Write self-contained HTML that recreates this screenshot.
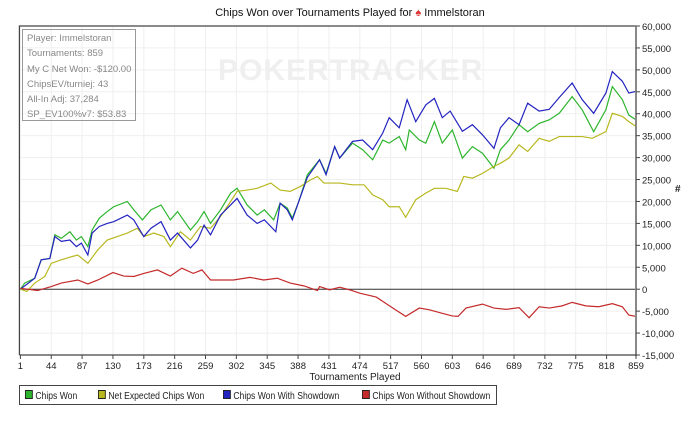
<!DOCTYPE html>
<html><head><meta charset="utf-8"><style>
body{margin:0;background:#fff;width:700px;height:416px;overflow:hidden;font-family:"Liberation Sans",sans-serif}
svg text{font-family:"Liberation Sans",sans-serif}
.lg{position:absolute;top:4px;transform:scaleX(0.86);transform-origin:left center}
</style></head><body>
<svg id="c" width="700" height="416"></svg>
<script>
const xTicks=[1,44,87,130,173,216,259,302,345,388,431,474,517,560,603,646,689,732,775,818,859];
const yTicks=[60000,55000,50000,45000,40000,35000,30000,25000,20000,15000,10000,5000,0,-5000,-10000,-15000];
const greenT=[1,7,21,30,42,49,58,70,79,86,95,101,111,122,131,150,159,171,183,197,210,220,238,248,257,266,280,294,303,317,331,341,354,363,373,380,389,401,418,427,439,446,464,478,492,506,515,529,538,543,557,566,578,589,603,617,631,645,661,670,682,696,708,724,738,752,770,784,800,817,826,840,849,859];
const greenV=[0,1400,2500,6700,7000,12400,11600,13100,11200,12000,9700,13500,16200,17700,18800,20000,18100,15800,18100,19200,15800,17700,13500,15400,17700,15000,18100,21900,23000,19200,16900,18100,15800,19600,18500,16200,20000,26100,29500,26400,32500,29900,33300,31800,29500,34000,33300,34800,31800,36300,34000,33300,38200,33300,36300,29900,32500,31000,27600,31800,34000,37500,35900,37800,38600,40100,43900,40900,35900,40900,46200,43200,39700,38600];
const blueT=[1,21,30,42,49,58,70,79,86,95,101,111,122,131,150,159,173,183,197,210,220,238,248,257,266,280,294,303,317,331,341,357,363,373,380,389,401,418,427,439,446,464,478,492,506,515,529,540,552,566,578,589,600,617,631,645,661,670,682,696,708,724,738,752,770,784,800,817,826,840,849,859];
const blueV=[0,2500,6700,7000,12000,10900,11200,9700,10500,7800,12800,14300,15000,15400,16900,15800,12000,13900,15400,11200,12800,9400,11200,14600,12400,16900,19200,20700,16900,15000,15800,13100,19600,18100,15800,20000,25500,29500,26100,32500,29900,33700,34000,31800,35600,39100,36800,43200,38200,42000,43500,39100,40600,36000,37500,35200,32100,36800,39100,37500,42400,40600,41000,43700,47000,43200,40100,44700,49600,47400,44700,45100];
const yellowT=[1,10,21,35,44,58,72,81,95,109,122,136,150,164,173,187,201,210,224,238,252,266,280,294,303,317,331,350,363,377,391,405,415,424,432,446,464,480,492,506,515,529,538,552,566,578,594,603,610,619,631,645,661,670,682,696,708,724,738,752,770,784,798,817,826,840,849,859];
const yellowV=[0,-500,1400,2900,5900,6700,7400,7800,5900,9000,11200,12000,12800,13900,12000,12800,12000,9700,13100,11200,14300,13900,16600,20000,22300,22600,23000,24200,22600,22300,23400,24900,25700,24200,24200,24200,23800,23800,21500,20400,18800,18800,16400,20400,21900,23000,23000,22600,22300,25700,25300,26400,28000,28700,29900,32900,31400,34400,33700,34800,34800,34800,34400,35900,40100,39400,38200,37100];
const redT=[1,25,44,58,81,95,109,130,145,159,173,192,210,226,242,254,266,298,321,340,359,377,396,415,418,432,446,460,474,497,510,524,538,557,571,589,603,611,622,645,661,678,696,710,724,738,756,770,789,807,826,840,849,859];
const redV=[200,-300,600,1400,2100,1200,2100,3800,3000,2900,3600,4400,3000,4800,3600,4400,2100,2100,2700,2100,2500,1400,760,-300,600,-150,450,-150,-900,-1800,-3200,-4700,-6200,-4300,-4700,-5500,-6100,-6200,-4300,-3400,-4300,-4600,-4200,-6500,-4000,-4300,-3800,-3000,-3800,-4000,-3300,-4000,-5900,-6200];
const series=[["series-chips-won",greenT,greenV,"#2db52d"],["series-net-expected",yellowT,yellowV,"#b8b820"],["series-with-showdown",blueT,blueV,"#2323c0"],["series-without-showdown",redT,redV,"#c42a2a"]];
const L=20.4,R=636,T=26,B=355;
const X=t=>L+(t-1)/858*(R-L);
const Y=v=>T+(60000-v)/75000*(B-T);
const NS="http://www.w3.org/2000/svg",svg=document.getElementById('c');
function mk(tag,a,p){const e=document.createElementNS(NS,tag);for(const k in a)e.setAttribute(k,a[k]);(p||svg).appendChild(e);return e;}
let wm=mk('text',{x:218,y:80,'font-size':30,'font-weight':'bold',fill:'#efefef','letter-spacing':'1'});wm.textContent='POKERTRACKER';


xTicks.forEach(t=>{let g=mk('line',{x1:X(t),x2:X(t),y1:T,y2:B,stroke:'#efefef'});

});
yTicks.forEach(v=>{let g=mk('line',{x1:L,x2:R,y1:Y(v),y2:Y(v),stroke:'#efefef'});

});
let fr=mk('path',{d:`M${L-1} ${B}V${T}H${R}`,stroke:'#444',fill:'none','stroke-width':1.2});


let zl=mk('line',{x1:L,x2:R,y1:Y(0),y2:Y(0),stroke:'#333'});


series.forEach(s=>{let p=mk('polyline',{points:s[1].map((t,i)=>X(t)+','+Y(s[2][i])).join(' '),fill:'none',stroke:s[3],'stroke-width':1.2});

});
let ra=mk('line',{x1:R,x2:R,y1:T,y2:B+1,stroke:'#888','stroke-width':2});


let ba=mk('line',{x1:L-1,x2:R,y1:B,y2:B,stroke:'#444','stroke-width':1.2});


yTicks.forEach(v=>{mk('line',{x1:R,x2:R+4,y1:Y(v),y2:Y(v),stroke:'#444'});
let t=mk('text',{x:R+6,y:Y(v)+4,'font-size':9.5,fill:'#222'});t.textContent=(v<0?'-':'')+Math.abs(v).toLocaleString('en-US');

});
xTicks.forEach(v=>{mk('line',{x1:X(v),x2:X(v),y1:B,y2:B+4,stroke:'#444'});
let t=mk('text',{x:X(v),y:B+14,'font-size':9.5,fill:'#222','text-anchor':'middle'});t.textContent=v;

});
</script>
<div style="position:absolute;left:0;top:7px;width:700px;text-align:center;font-size:11px;color:#111">Chips Won over Tournaments Played for <span style="color:#d33">♠</span> Immelstoran</div>
<div style="position:absolute;left:280px;top:372px;width:150px;text-align:center;font-size:10px;color:#222">Tournaments Played</div>
<div style="position:absolute;left:675px;top:184px;font-size:10px;font-weight:bold;color:#222">#</div>
<div style="position:absolute;left:22px;top:29px;width:114px;height:92px;border:1px solid #999;font-size:9.5px;color:#888;line-height:15.3px;padding:1px 0 0 4px;box-sizing:border-box">Player: Immelstoran<br>Tournaments: 859<br>My C Net Won: -$120.00<br>ChipsEV/turniej: 43<br>All-In Adj: 37,284<br>SP_EV100%v7: $53.83</div>
<div style="position:absolute;left:19px;top:385px;width:478px;height:20px;border:1px solid #444;box-sizing:border-box;font-size:10px;color:#222;white-space:nowrap">
<span class="lg" style="left:5px"><i style="display:inline-block;width:7px;height:7px;background:#2db52d;border:1px solid #222;margin-right:3px"></i>Chips Won</span>
<span class="lg" style="left:78px"><i style="display:inline-block;width:7px;height:7px;background:#b8b820;border:1px solid #222;margin-right:3px"></i>Net Expected Chips Won</span>
<span class="lg" style="left:203px"><i style="display:inline-block;width:7px;height:7px;background:#2323c0;border:1px solid #222;margin-right:3px"></i>Chips Won With Showdown</span>
<span class="lg" style="left:342px"><i style="display:inline-block;width:7px;height:7px;background:#c42a2a;border:1px solid #222;margin-right:3px"></i>Chips Won Without Showdown</span>
</div>
</body></html>
